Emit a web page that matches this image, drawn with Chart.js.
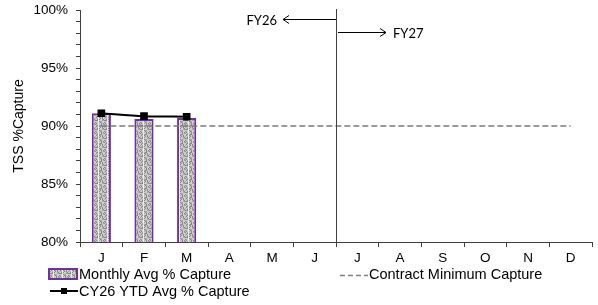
<!DOCTYPE html>
<html>
<head>
<meta charset="utf-8">
<script src="https://cdn.jsdelivr.net/npm/chart.js@4"></script>
<style>
  html, body { margin: 0; padding: 0; background: #fff; }
  canvas { display: block; }
</style>
</head>
<body>
<canvas id="chart" width="598" height="305"></canvas>
<script>
const MONTHS = ['J', 'F', 'M', 'A', 'M', 'J', 'J', 'A', 'S', 'O', 'N', 'D'];
const MONTHLY_AVG = [91.1, 90.6, 90.7, null, null, null, null, null, null, null, null, null];
const YTD_AVG = [91.1, 90.85, 90.8, null, null, null, null, null, null, null, null, null];
const CONTRACT_MIN = [90, 90, 90, 90, 90, 90, 90, 90, 90, 90, 90, 90];
const Y_TICKS = [80, 85, 90, 95, 100];
const FY_SPLIT = 5.5; // between Jun and Jul

const PURPLE = '#7030A0';
const FONT = '"Liberation Sans", Arial, sans-serif';

// speckled grey fill like the excel texture
function makePattern() {
    const c = document.createElement('canvas');
    c.width = 9; c.height = 9;
    const g = c.getContext('2d');
    g.fillStyle = '#cfcfcf';
    g.fillRect(0, 0, 9, 9);
    for (let x = 0; x < 9; x++) {
        for (let y = 0; y < 9; y++) {
            const k = (x * 37 + y * 61 + x * y * 13) % 11;
            if (k < 3) { g.fillStyle = '#858585'; g.fillRect(x, y, 1, 1); }
            else if (k < 5) { g.fillStyle = '#a8a8a8'; g.fillRect(x, y, 1, 1); }
            else if (k == 10) { g.fillStyle = '#ececec'; g.fillRect(x, y, 1, 1); }
        }
    }
    return g.createPattern(c, 'repeat');
}
const pattern = makePattern();

// vertical FY divider + arrows
const fyPlugin = {
    id: 'fy',
    afterDatasetsDraw(chart) {
        const ctx = chart.ctx;
        const x = Math.round(chart.scales.x.getPixelForValue(FY_SPLIT));
        const top = chart.chartArea.top;
        const bottom = chart.chartArea.bottom;
        ctx.save();
        ctx.strokeStyle = '#404040';
        ctx.lineWidth = 1;
        ctx.beginPath();
        ctx.moveTo(x + 0.5, top - 1);
        ctx.lineTo(x + 0.5, bottom + 4);
        ctx.stroke();

        ctx.strokeStyle = '#000';
        // FY26 arrow to the left
        const y1 = Math.round(top) + 9.5;
        ctx.beginPath();
        ctx.moveTo(x, y1); ctx.lineTo(x - 53, y1);
        ctx.moveTo(x - 47, y1 - 4); ctx.lineTo(x - 53, y1); ctx.lineTo(x - 47, y1 + 4);
        ctx.stroke();
        // FY27 arrow to the right
        const y2 = Math.round(top) + 22.5;
        ctx.beginPath();
        ctx.moveTo(x + 2, y2); ctx.lineTo(x + 50, y2);
        ctx.moveTo(x + 44, y2 - 4); ctx.lineTo(x + 50, y2); ctx.lineTo(x + 44, y2 + 4);
        ctx.stroke();

        ctx.fillStyle = '#000';
        ctx.font = '13px Lato, "Open Sans", sans-serif';
        ctx.textBaseline = 'middle';
        ctx.textAlign = 'right';
        ctx.fillText('FY26', x - 59, y1 + 1);
        ctx.textAlign = 'left';
        ctx.fillText('FY27', x + 57, y2 + 1);
        ctx.restore();
    }
};

// excel-style legend under the axis
const legendPlugin = {
    id: 'xlLegend',
    afterDraw(chart) {
        const ctx = chart.ctx;
        const ds = chart.data.datasets;
        ctx.save();
        ctx.font = '14.5px ' + FONT;
        ctx.textBaseline = 'middle';
        ctx.textAlign = 'left';
        ctx.fillStyle = '#000';

        // bars
        const r1 = 274;
        ctx.fillStyle = pattern;
        ctx.fillRect(49, r1 - 5, 28, 10);
        ctx.strokeStyle = PURPLE;
        ctx.lineWidth = 2;
        ctx.strokeRect(49, r1 - 5, 28, 10);
        ctx.fillStyle = '#000';
        ctx.fillText(ds[0].label, 79, r1 + 1);

        // contract minimum
        ctx.strokeStyle = '#808080';
        ctx.lineWidth = 1.5;
        ctx.setLineDash([5, 3]);
        ctx.beginPath();
        ctx.moveTo(340, r1 + 1.5); ctx.lineTo(368, r1 + 1.5);
        ctx.stroke();
        ctx.setLineDash([]);
        ctx.fillText(ds[2].label, 369, r1 + 1);

        // ytd line
        const r2 = 291;
        ctx.strokeStyle = '#000';
        ctx.lineWidth = 2;
        ctx.beginPath();
        ctx.moveTo(50, r2); ctx.lineTo(78, r2);
        ctx.stroke();
        ctx.fillRect(61, r2 - 3, 6, 6);
        ctx.fillText(ds[1].label, 79, r2 + 1);
        ctx.restore();
    }
};

new Chart(document.getElementById('chart'), {
    type: 'bar',
    data: {
        labels: MONTHS,
        datasets: [
            {
                type: 'bar',
                label: 'Monthly Avg % Capture',
                data: MONTHLY_AVG,
                backgroundColor: pattern,
                borderColor: PURPLE,
                borderWidth: 2,
                borderSkipped: false,
                categoryPercentage: 1,
                barPercentage: 0.45,
                order: 3
            },
            {
                type: 'line',
                label: 'CY26 YTD Avg % Capture',
                data: YTD_AVG,
                borderColor: '#000',
                backgroundColor: '#000',
                borderWidth: 2,
                pointStyle: 'rect',
                pointRadius: 4,
                tension: 0.3,
                order: 1
            },
            {
                type: 'line',
                label: 'Contract Minimum Capture',
                data: CONTRACT_MIN,
                borderColor: '#7a7a7a',
                borderWidth: 1.5,
                borderDash: [6, 3],
                pointRadius: 0,
                order: 2
            }
        ]
    },
    options: {
        responsive: false,
        animation: false,
        layout: { padding: { top: 10, right: 4, left: 0, bottom: 0 } },
        plugins: {
            legend: { display: false },
            tooltip: { enabled: false }
        },
        scales: {
            x: {
                offset: true,
                grid: {
                    offset: true,
                    drawOnChartArea: false,
                    tickLength: 5,
                    color: '#404040'
                },
                border: { color: '#404040', width: 1 },
                ticks: {
                    color: '#000',
                    font: { size: 13.5, family: FONT },
                    padding: 3,
                    maxRotation: 0
                },
                afterFit(scale) { scale.height = 63; }
            },
            y: {
                min: 80,
                max: 100,
                grid: {
                    drawOnChartArea: false,
                    tickLength: 4,
                    color: '#404040'
                },
                border: { color: '#404040', width: 1 },
                ticks: {
                    stepSize: 1,
                    autoSkip: false,
                    color: '#000',
                    font: { size: 13.5, family: FONT },
                    padding: 8,
                    callback: (v) => Y_TICKS.includes(v) ? v + '%' : ''
                },
                title: {
                    display: true,
                    text: 'TSS %Capture',
                    color: '#000',
                    font: { size: 14, family: FONT },
                    padding: { top: 11, bottom: 0 }
                },
                afterFit(scale) {
                    scale.width = 80;
                    scale.paddingTop = 0;
                    scale.paddingBottom = 0;
                }
            }
        }
    },
    plugins: [fyPlugin, legendPlugin]
});
</script>
</body>
</html>
